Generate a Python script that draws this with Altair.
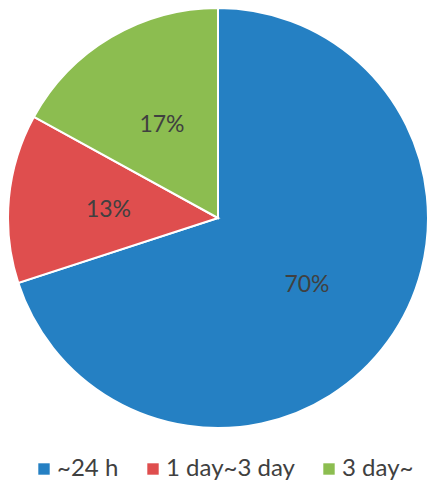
import altair as alt
import pandas as pd

categories = ["~24 h", "1 day~3 day", "3 day~"]
values = [70, 13, 17]
labels = ["70%", "13%", "17%"]
colors = ["#2580C3", "#DF4E4E", "#8CBD50"]

df = pd.DataFrame({
    "category": categories,
    "value": values,
    "label": labels,
    "order": list(range(len(categories))),
})

base = alt.Chart(df).encode(
    theta=alt.Theta("value:Q", stack=True),
    order=alt.Order("order:Q"),
)

pie = base.mark_arc(radius=210, stroke="white", strokeWidth=2).encode(
    color=alt.Color(
        "category:N",
        scale=alt.Scale(domain=categories, range=colors),
        sort=categories,
        legend=alt.Legend(
            title=None,
            orient="none",
            legendX=24,
            legendY=449,
            direction="horizontal",
            symbolType="square",
            symbolSize=130,
            symbolStrokeWidth=0,
            labelFontSize=24,
            labelFont="Lato",
            labelColor="#404040",
            columnPadding=22,
            labelOffset=1,
            padding=0,
        ),
    )
)

text = base.mark_text(radius=110, fontSize=23, font="Lato", color="#404040", dy=2).encode(
    text="label:N"
)

chart = (pie + text).properties(
    width=420,
    height=420,
    padding={"left": 0, "top": 0, "right": 0, "bottom": 53},
    autosize=alt.AutoSizeParams(type="none"),
).configure_view(stroke=None)

chart.save("out.html", embed_options={"renderer": "svg", "actions": False})
